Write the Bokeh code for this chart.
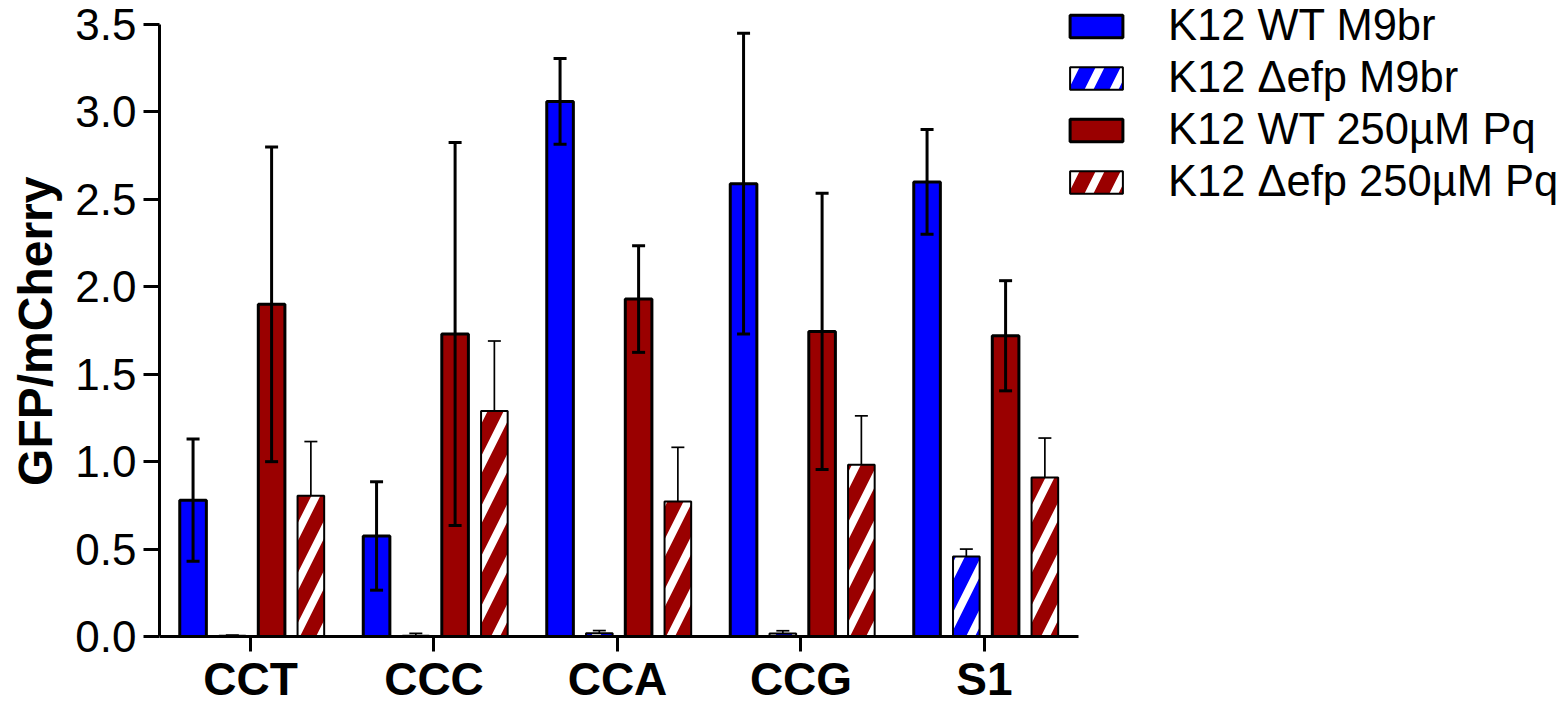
from bokeh.plotting import figure
from bokeh.models import (ColumnDataSource, Whisker, TeeHead, Legend, LegendItem,
                          FixedTicker, Range1d, Title)
from bokeh.core.properties import value
from bokeh.embed import file_html
from bokeh.resources import INLINE

categories = ["CCT", "CCC", "CCA", "CCG", "S1"]
series_names = ["K12 WT M9br", "K12 \u0394efp M9br", "K12 WT 250\u00b5M Pq", "K12 \u0394efp 250\u00b5M Pq"]

wt_m9 = [0.78, 0.575, 3.06, 2.59, 2.60]
wt_m9_err = [0.35, 0.31, 0.245, 0.86, 0.30]
efp_m9 = [0.005, 0.005, 0.018, 0.017, 0.458]
efp_m9_err = [0.003, 0.013, 0.016, 0.016, 0.042]
wt_pq = [1.90, 1.73, 1.93, 1.745, 1.72]
wt_pq_err = [0.90, 1.095, 0.305, 0.79, 0.315]
efp_pq = [0.805, 1.29, 0.772, 0.982, 0.91]
efp_pq_err = [0.31, 0.40, 0.31, 0.28, 0.225]

y_ticks = [0.0, 0.5, 1.0, 1.5, 2.0, 2.5, 3.0, 3.5]

BLUE = "#0000FF"
RED = "#9A0000"
FONT = "Liberation Sans"

xpos = list(range(len(categories)))

p = figure(x_range=Range1d(-0.4959, 7.139), y_range=Range1d(-0.3945, 3.6373),
           frame_width=1401, frame_height=705, width=1559, height=707,
           output_backend="svg", toolbar_location=None,
           min_border_left=158, min_border_right=0, min_border_top=0, min_border_bottom=0)
p.outline_line_color = None
p.xgrid.grid_line_color = None
p.ygrid.grid_line_color = None

series = [
    (wt_m9, wt_m9_err, BLUE, None, -0.313, True),
    (efp_m9, efp_m9_err, BLUE, "/", -0.099, False),
    (wt_pq, wt_pq_err, RED, None, 0.115, True),
    (efp_pq, efp_pq_err, RED, "/", 0.329, False),
]

renderers = []
for vals, errs, color, hatch, off, solid in series:
    src = ColumnDataSource(dict(
        x=[i + off for i in xpos], val=vals,
        upper=[v + e for v, e in zip(vals, errs)],
        lower=[v - e if solid else v for v, e in zip(vals, errs)],
    ))
    kw = dict(hatch_pattern=hatch, hatch_color="white", hatch_weight=8, hatch_scale=50) if hatch else {}
    r = p.vbar(x="x", top="val", bottom=0, width=0.145, source=src, fill_color=color,
               line_color="black", line_width=3 if solid else 2, **kw)
    renderers.append(r)
    lw = 3 if solid else 1.7
    w = Whisker(source=src, base="x", upper="upper", lower="lower", dimension="height",
                line_color="black", line_width=lw, level="overlay",
                upper_head=TeeHead(size=13, line_width=lw, line_color="black"),
                lower_head=TeeHead(size=13, line_width=lw, line_color="black") if solid else None)
    p.add_layout(w)

# category labels under the x axis
p.text(x=xpos, y=[-0.243] * len(categories), text=categories, text_align="center",
       text_baseline="middle", text_font=value(FONT), text_font_style="bold",
       text_font_size="46px", text_color="black")

# y axis
yax = p.yaxis[0]
yax.ticker = FixedTicker(ticks=y_ticks)
yax.bounds = (0, 3.5)
yax.major_label_overrides = {t: f"{t:.1f}" for t in y_ticks}
yax.major_label_text_font = FONT
yax.major_label_text_font_size = "44px"
yax.major_label_text_color = "black"
yax.major_label_standoff = 7
yax.major_tick_out = 16
yax.major_tick_in = 0
yax.minor_tick_line_color = None

# x axis drawn at y = 0, ticks pointing down
xax = p.xaxis[0]
xax.ticker = FixedTicker(ticks=xpos)
xax.bounds = (-0.4959, 4.512)
xax.fixed_location = 0
xax.major_label_overrides = {i: "" for i in xpos}
xax.major_label_text_font_size = "1px"
xax.major_label_standoff = 0
xax.major_tick_out = 0
xax.major_tick_in = -15
xax.minor_tick_line_color = None

for ax in (xax, yax):
    ax.axis_line_width = 3
    ax.axis_line_color = "black"
    ax.major_tick_line_width = 3
    ax.major_tick_line_color = "black"

p.add_layout(Title(text="GFP/mCherry", align="right", vertical_align="top", offset=176, standoff=17,
                   text_font=FONT, text_font_style="bold", text_font_size="48px",
                   text_color="black"), "left")

legend = Legend(items=[LegendItem(label=n, renderers=[r]) for n, r in zip(series_names, renderers)],
                location=(904, 499), orientation="vertical")
legend.label_text_font = FONT
legend.label_text_font_size = "43.5px"
legend.label_text_color = "black"
legend.glyph_width = 66
legend.glyph_height = 28
legend.label_standoff = 39
legend.spacing = 3
legend.padding = 0
legend.margin = 0
legend.border_line_color = None
legend.background_fill_alpha = 0
p.add_layout(legend)

open("out.html", "w").write(file_html(p, INLINE))
